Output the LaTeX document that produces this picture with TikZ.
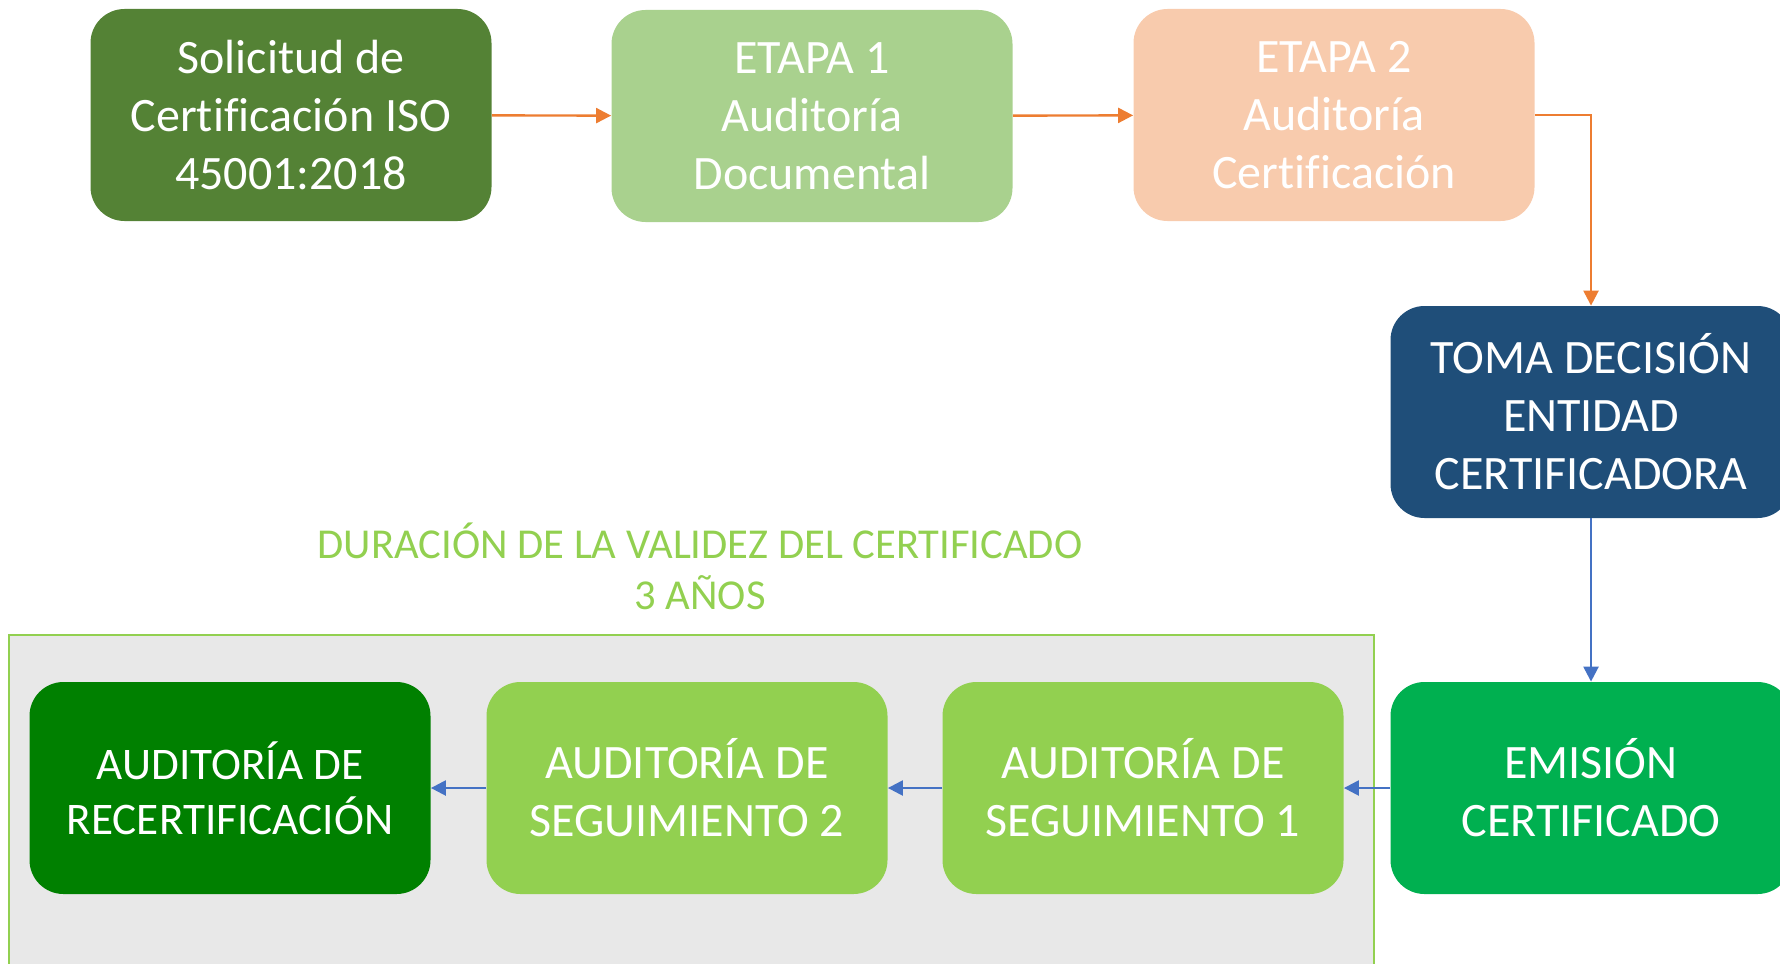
\documentclass[tikz,border=0pt]{standalone}
\usepackage{fontspec}
\setmainfont{Carlito}[Ligatures=NoCommon]
\usetikzlibrary{arrows.meta}
\definecolor{oliveBox}{HTML}{548235}
\definecolor{lightGreenBox}{HTML}{A9D18E}
\definecolor{peachBox}{HTML}{F8CBAD}
\definecolor{navyBox}{HTML}{1F4E79}
\definecolor{emisionGreen}{HTML}{00B050}
\definecolor{limeBox}{HTML}{92D050}
\definecolor{recertGreen}{HTML}{008000}
\definecolor{arrowOrange}{HTML}{ED7D31}
\definecolor{arrowBlue}{HTML}{4472C4}
\definecolor{panelGrey}{HTML}{E8E8E8}
\tikzset{
    step-box/.style = {rectangle, rounded corners=17pt, minimum width=200.5pt, minimum height=106pt, align=center, text=white, inner sep=2pt, font=\fontsize{24}{29}\selectfont},
    orange-arrow/.style = {draw=arrowOrange, line width=1.2pt, -{Triangle[length=7.5pt,width=7.5pt]}},
    blue-arrow/.style = {draw=arrowBlue, line width=1.2pt, -{Triangle[length=7.5pt,width=7.5pt]}},
}

\begin{document}
\begin{tikzpicture}[x=0.5pt,y=-0.5pt]
\useasboundingbox (0,0) rectangle (1780,963);
% validity panel
\draw[draw=limeBox, fill=panelGrey, line width=1.2pt] (9,635) rectangle (1374,975);
\node[text=limeBox, align=center, font=\fontsize{21.3}{25.5}\selectfont] (validez) at (700,566) {DURACIÓN DE LA VALIDEZ DEL CERTIFICADO\\3 AÑOS};
% top row
\node[step-box, fill=oliveBox] (solicitud) at (291,115) {Solicitud de\\Certificación ISO\\45001:2018};
\node[step-box, fill=lightGreenBox] (etapa1) at (812,116) {ETAPA 1\\Auditoría\\Documental};
\node[step-box, fill=peachBox] (etapa2) at (1334,115) {ETAPA 2\\Auditoría\\Certificación};
% decision and certificate
\node[step-box, fill=navyBox] (decision) at (1591,412) {TOMA DECISIÓN\\ENTIDAD\\CERTIFICADORA};
\node[step-box, fill=emisionGreen] (emision) at (1591,788) {EMISIÓN\\CERTIFICADO};
% follow-up audits
\node[step-box, fill=limeBox] (seguimiento1) at (1143,788) {AUDITORÍA DE\\SEGUIMIENTO 1};
\node[step-box, fill=limeBox] (seguimiento2) at (687,788) {AUDITORÍA DE\\SEGUIMIENTO 2};
\node[step-box, fill=recertGreen, font=\fontsize{22.6}{27.3}\selectfont] (recert) at (230,788) {AUDITORÍA DE\\RECERTIFICACIÓN};
% connectors
\draw[orange-arrow] (solicitud) -- (etapa1);
\draw[orange-arrow] (etapa1) -- (etapa2);
\draw[orange-arrow] (etapa2.east) -| (decision.north);
\draw[blue-arrow] (decision) -- (emision);
\draw[blue-arrow] (emision) -- (seguimiento1);
\draw[blue-arrow] (seguimiento1) -- (seguimiento2);
\draw[blue-arrow] (seguimiento2) -- (recert);
\end{tikzpicture}
\end{document}
